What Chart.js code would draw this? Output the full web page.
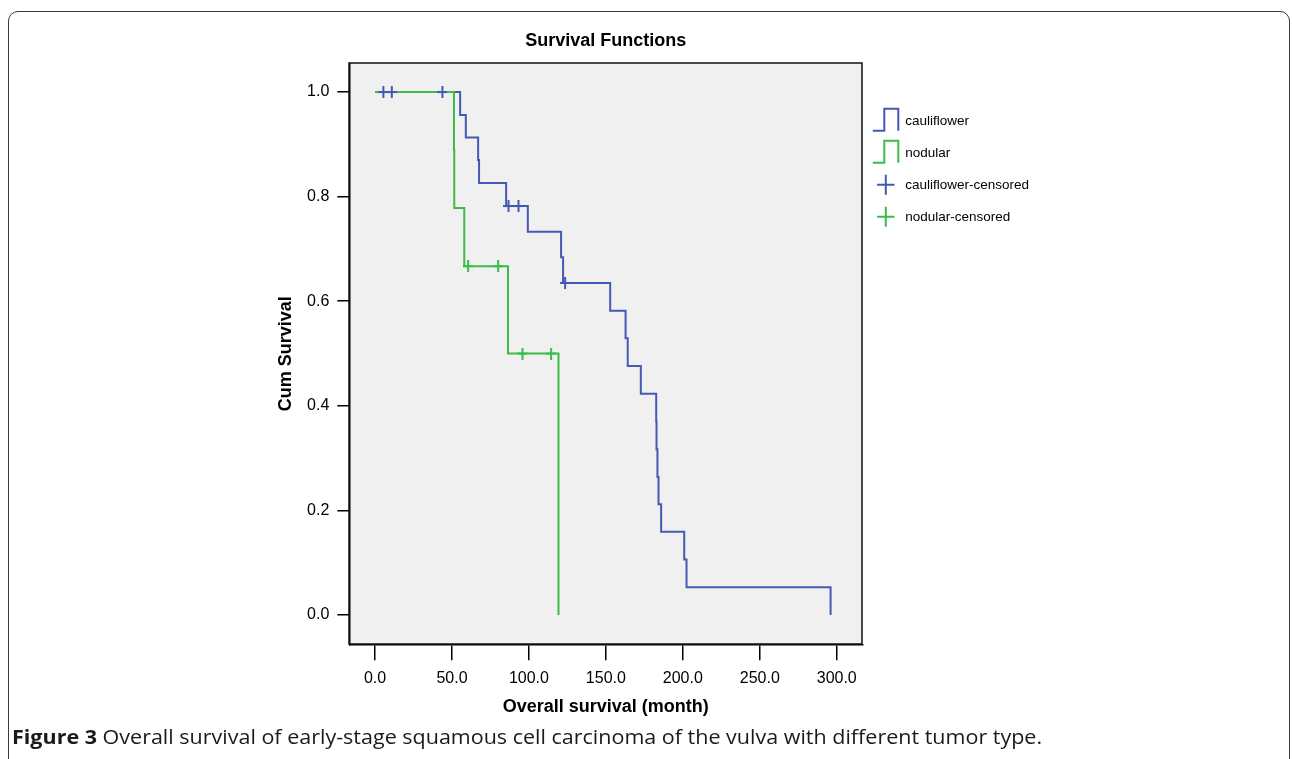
<!DOCTYPE html>
<html>
<head>
<meta charset="utf-8">
<script src="https://cdn.jsdelivr.net/npm/chart.js@4.4.0/dist/chart.umd.min.js"></script>
<style>
html,body{margin:0;padding:0;background:#fff;width:1292px;height:759px;overflow:hidden;}
#frame{position:absolute;left:8px;top:11px;width:1282px;height:800px;border:1.5px solid #3a3a3a;border-radius:10px;box-sizing:border-box;}
#wrap{position:absolute;left:0;top:0;width:1292px;height:759px;}
#caption{position:absolute;left:12px;top:726px;font-family:'Open Sans',sans-serif;font-size:20px;line-height:22px;white-space:nowrap;transform-origin:0 0;color:#1a1a1a;}
#caption b{font-weight:700;}
</style>
</head>
<body>
<div id="frame"></div>
<div id="wrap"><canvas id="c" width="1292" height="759"></canvas></div>
<div id="caption"><b>Figure 3</b> Overall survival of early-stage squamous cell carcinoma of the vulva with different tumor type.</div>
<script>
// ---- data ----
const seriesNames = ['cauliflower', 'nodular', 'cauliflower-censored', 'nodular-censored'];

const cauliflowerTime = [0, 55.3, 59.0, 67.0, 67.6, 85.2, 99.3, 120.9, 122.2, 152.8, 162.8, 164.2, 172.7, 182.7, 182.9, 183.5, 184.2, 185.9, 200.9, 202.4, 296.0];
const cauliflowerSurv = [1.0, 0.956, 0.913, 0.870, 0.826, 0.782, 0.733, 0.684, 0.635, 0.582, 0.529, 0.476, 0.423, 0.370, 0.317, 0.264, 0.212, 0.159, 0.106, 0.053, 0.0];

const nodularTime = [0, 51.3, 51.5, 58.0, 86.4, 119.2];
const nodularSurv = [1.0, 0.889, 0.778, 0.667, 0.500, 0.0];

const cauliflowerCensTime = [5.4, 10.9, 43.8, 86.7, 93.2, 123.5];
const cauliflowerCensSurv = [1.0, 1.0, 1.0, 0.782, 0.782, 0.635];

const nodularCensTime = [60.5, 80.0, 95.8, 114.4];
const nodularCensSurv = [0.667, 0.667, 0.500, 0.500];

const xTicks = [0, 50, 100, 150, 200, 250, 300];
const yTicks = [0.0, 0.2, 0.4, 0.6, 0.8, 1.0];

const chartTitle = 'Survival Functions';
const xTitle = 'Overall survival (month)';
const yTitle = 'Cum Survival';

// ---- styles ----
const BLUE = '#4459b4';
const GREEN = '#3cbb4b';
const FONT = "'Liberation Sans', Arial, Helvetica, sans-serif";

function toXY(xs, ys){ return xs.map((x,i)=>({x:x, y:ys[i]})); }

function crossImg(color){
  const c = document.createElement('canvas');
  c.width = 10; c.height = 12;
  const g = c.getContext('2d');
  g.strokeStyle = color; g.lineWidth = 2;
  g.beginPath();
  g.moveTo(5,0); g.lineTo(5,12);
  g.moveTo(0,6); g.lineTo(10,6);
  g.stroke();
  return c;
}

const areaPlugin = {
  id: 'areaBg',
  beforeDraw(chart){
    const a = chart.chartArea, ctx = chart.ctx;
    ctx.save();
    ctx.fillStyle = '#f0f0f0';
    ctx.fillRect(a.left, a.top, a.right - a.left, a.bottom - a.top);
    ctx.restore();
  },
  beforeDatasetsDraw(chart){
    const a = chart.chartArea, ctx = chart.ctx;
    ctx.save();
    ctx.strokeStyle = '#111';
    ctx.lineWidth = 1.5;
    ctx.strokeRect(Math.round(a.left), Math.round(a.top), Math.round(a.right - a.left), Math.round(a.bottom - a.top));
    ctx.restore();
  }
};

const legendPlugin = {
  id: 'kmLegend',
  afterDraw(chart){
    const a = chart.chartArea, ctx = chart.ctx;
    const ds = chart.data.datasets;
    const x0 = a.right + 10.5;
    const y0 = a.top + 57.5;
    const step = 32;
    ctx.save();
    for (let i = 0; i < ds.length; i++){
      const cy = y0 + i * step;
      const color = ds[i].legendColor;
      ctx.strokeStyle = color;
      ctx.lineWidth = 2;
      ctx.beginPath();
      if (ds[i].showLine === false){
        const cx = x0 + 13;
        ctx.moveTo(cx, cy - 10); ctx.lineTo(cx, cy + 10);
        ctx.moveTo(cx - 8.7, cy); ctx.lineTo(cx + 8.7, cy);
      } else {
        ctx.moveTo(x0, cy + 10);
        ctx.lineTo(x0 + 11.5, cy + 10);
        ctx.lineTo(x0 + 11.5, cy - 12);
        ctx.lineTo(x0 + 25.5, cy - 12);
        ctx.lineTo(x0 + 25.5, cy + 10);
      }
      ctx.stroke();
      ctx.fillStyle = '#000';
      ctx.font = '13.5px ' + FONT;
      ctx.textBaseline = 'middle';
      ctx.textAlign = 'left';
      ctx.fillText(ds[i].label, x0 + 32.5, cy);
    }
    ctx.restore();
  }
};

const ctx = document.getElementById('c').getContext('2d');
new Chart(ctx, {
  type: 'line',
  data: {
    datasets: [
      {label: seriesNames[0], legendColor: BLUE, data: toXY(cauliflowerTime, cauliflowerSurv), stepped: 'before',
       borderColor: BLUE, borderWidth: 2, pointRadius: 0, fill: false, order: 3},
      {label: seriesNames[1], legendColor: GREEN, data: toXY(nodularTime, nodularSurv), stepped: 'before',
       borderColor: GREEN, borderWidth: 2, pointRadius: 0, fill: false, order: 2},
      {label: seriesNames[2], legendColor: BLUE, data: toXY(cauliflowerCensTime, cauliflowerCensSurv), showLine: false,
       pointStyle: crossImg(BLUE), pointRadius: 5, borderColor: BLUE, order: 1},
      {label: seriesNames[3], legendColor: GREEN, data: toXY(nodularCensTime, nodularCensSurv), showLine: false,
       pointStyle: crossImg(GREEN), pointRadius: 5, borderColor: GREEN, order: 0}
    ]
  },
  options: {
    responsive: false,
    animation: false,
    devicePixelRatio: 1,
    layout: {padding: {left: 264, right: 429.7, top: 20, bottom: 30}},
    plugins: {
      legend: {display: false},
      tooltip: {enabled: false},
      title: {
        display: true, text: chartTitle, fullSize: false, color: '#000',
        font: {family: FONT, size: 18, weight: 'bold', lineHeight: 1.2},
        padding: {top: 9.8, bottom: 11.9}
      }
    },
    scales: {
      x: {
        type: 'linear', min: -16.7, max: 316.6,
        afterFit(s){ s.height = 84.7; },
        afterBuildTicks(s){ s.ticks = xTicks.map(v => ({value: v})); },
        grid: {drawOnChartArea: false, drawTicks: true, tickLength: 16, color: '#000', lineWidth: 1.5},
        border: {display: true, color: '#000', width: 1.5},
        ticks: {color: '#000', padding: 8.5, maxRotation: 0, font: {family: FONT, size: 16},
                callback: v => Number(v).toFixed(1)},
        title: {display: true, text: xTitle, color: '#000', font: {family: FONT, size: 18, weight: 'bold', lineHeight: 1.2},
                padding: {top: 0, bottom: 11.5}}
      },
      y: {
        type: 'linear', min: -0.056, max: 1.0549,
        afterFit(s){ s.width = 85.3; },
        afterBuildTicks(s){ s.ticks = yTicks.map(v => ({value: v})); },
        grid: {drawOnChartArea: false, drawTicks: true, tickLength: 12, color: '#000', lineWidth: 1.5},
        border: {display: true, color: '#000', width: 1.5},
        ticks: {color: '#000', padding: 8, font: {family: FONT, size: 16},
                callback: v => Number(v).toFixed(1)},
        title: {display: true, text: yTitle, color: '#000', font: {family: FONT, size: 18, weight: 'bold', lineHeight: 1.2},
                padding: {top: 11, bottom: 0}}
      }
    }
  },
  plugins: [areaPlugin, legendPlugin]
});

// fit caption width to the reference span
const cap = document.getElementById('caption');
const w = cap.scrollWidth;
cap.style.transform = 'scaleX(' + (1030 / w) + ')';
</script>
</body>
</html>
